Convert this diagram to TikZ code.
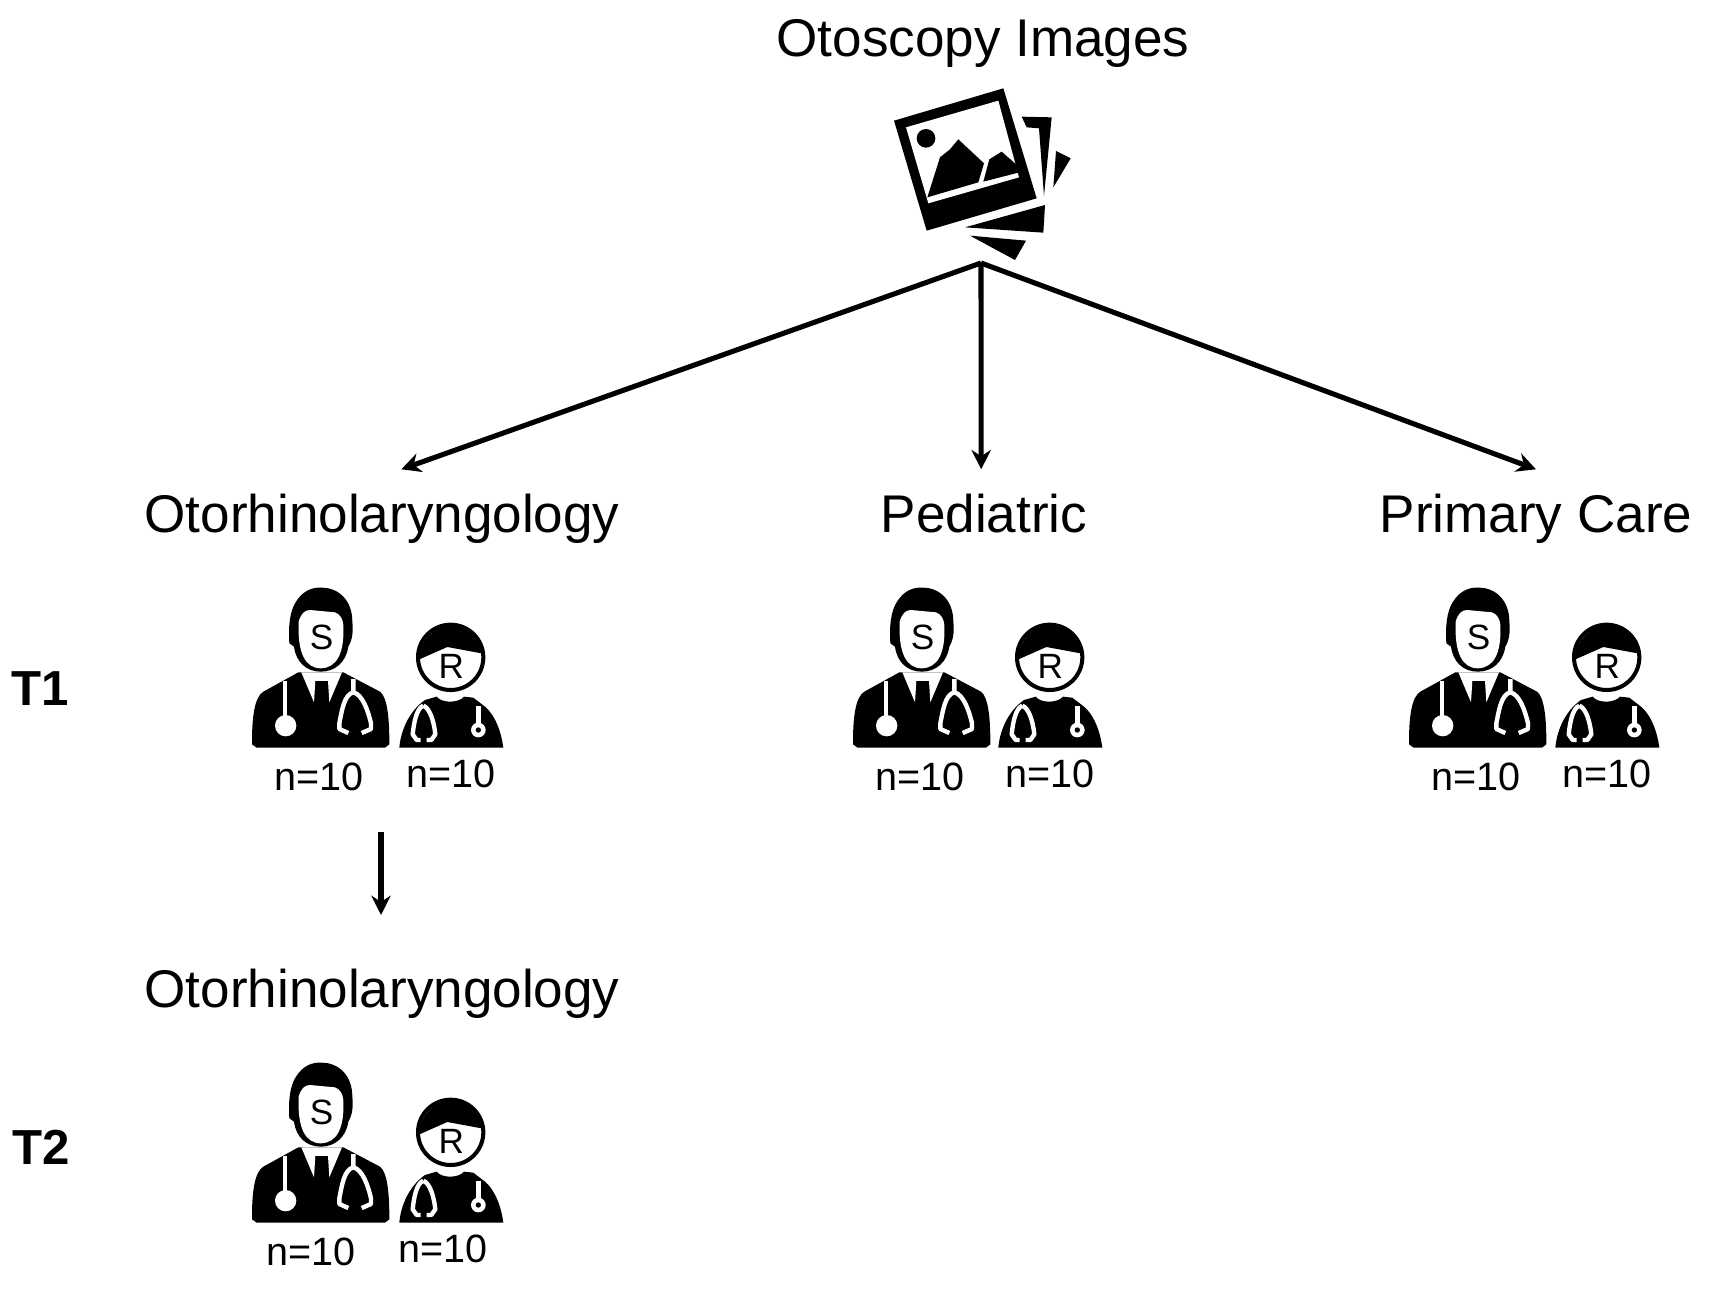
\documentclass[tikz,border=0pt]{standalone}
\usepackage{fontspec}
\setmainfont{Liberation Sans}
\usetikzlibrary{arrows.meta}
\tikzset{
    arrowline/.style={line width=2.9pt,-{Stealth[length=11pt,width=11pt]}},
    group/.style={font=\fontsize{30.2}{36}\selectfont,anchor=base,inner xsep=0pt,inner ysep=13.6pt},
    count/.style={font=\fontsize{22.5}{26}\selectfont,inner sep=0pt},
    period/.style={font=\fontsize{28}{32}\selectfont\bfseries,inner sep=0pt},
    badge/.style={font=\fontsize{20}{24}\selectfont,inner sep=0pt},
    tube/.style={white,line width=2.5pt,line join=round},
    pics/senior/.style={code={
        \fill (36,500) .. controls (36,420) and (45,365) .. (70,350) -- (175,292) --
            (310,292) -- (420,350) .. controls (440,365) and (448,420) .. (448,500) --
            (448,508) -- (435,518) -- (50,518) -- (36,508) -- cycle;
        \fill[white] (184,292) -- (222,382) -- (226,318) -- (264,318) -- (268,382) -- (306,292) -- cycle;
        \fill (226,318) -- (264,318) -- (256,345) -- (268,385) -- (222,385) -- (234,345) -- cycle;
        \draw[tube] (135,318) -- (135,430);
        \fill[white] (137,452) circle[radius=32];
        \draw[tube] (340,312) -- (340,352) .. controls (312,358) and (305,410) .. (298,445) --
            (298,462) -- (325,474);
        \draw[tube] (340,352) .. controls (368,358) and (385,410) .. (393,445) --
            (393,462) -- (365,474);
        \fill (148,205) .. controls (145,160) and (148,110) .. (168,80) ..
            controls (190,45) and (220,36) .. (245,38) .. controls (295,38) and (337,75) .. (337,140) ..
            controls (340,170) and (337,195) .. (325,215) .. controls (318,262) and (285,290) .. (242,290) ..
            controls (200,290) and (168,262) .. (162,215) -- cycle;
        \fill[white] (176,140) .. controls (183,115) and (195,105) .. (210,105) --
            (285,112) .. controls (300,118) and (308,130) .. (310,150) ..
            controls (314,235) and (290,279) .. (242,280) ..
            controls (196,279) and (172,235) .. (176,140) -- cycle;
        \node[badge] (-letter) at (245,188) {S};
    }},
    pics/resident/.style={code={
        \fill (478,518) .. controls (482,470) and (505,410) .. (555,375) -- (590,365) ..
            controls (605,385) and (655,385) .. (672,365) -- (700,368) -- (735,395) ..
            controls (770,425) and (785,480) .. (790,518) -- cycle;
        \draw[tube] (550,392) .. controls (530,400) and (522,440) .. (518,478) -- (530,495) -- (542,495);
        \draw[tube] (550,392) .. controls (570,400) and (582,440) .. (586,478) -- (574,495) -- (560,495);
        \draw[tube] (715,392) -- (715,445);
        \fill[white] (715,465) circle[radius=22];
        \fill (715,465) circle[radius=8];
        \fill[white] (632,247) circle[radius=98];
        \draw[line width=2.3pt] (632,247) circle[radius=98];
        \fill (536,254) .. controls (540,190) and (590,152) .. (632,152) ..
            controls (680,152) and (726,190) .. (730,236) -- (622,216) -- cycle;
        \node[badge] (-letter) at (634,275) {R};
    }},
    pics/album/.style={code={
        \fill (72,152) -- (400,55) -- (500,385) -- (170,482) -- cycle;
        \fill[white] (108,172) -- (385,92) -- (447,322) -- (175,400) -- cycle;
        \fill (168,205) circle[radius=28];
        \fill (172,382) -- (210,262) -- (240,238) -- (265,208) -- (342,280) -- (325,337) -- cycle;
        \fill (340,335) -- (358,268) -- (395,245) -- (437,282) -- (445,308) -- cycle;
        \fill (455,140) -- (545,142) -- (522,378) -- (507,175) -- (470,172) -- cycle;
        \fill (558,243) -- (602,265) -- (550,352) -- cycle;
        \fill (285,472) -- (525,405) -- (520,488) -- cycle;
        \fill (300,497) -- (468,512) -- (435,570) -- cycle;
    }}
}
\begin{document}
\begin{tikzpicture}[x=.02cm,y=-.02cm]
    \useasboundingbox (0,0) rectangle (1713,1291);
    \node[group,inner ysep=0pt] (images) at (983,57) {Otoscopy Images};
    \pic[scale=1/3] (album) at (870,70) {album};
    \node[group] (ent) at (382,532) {Otorhinolaryngology};
    \node[group] (ped) at (984,532) {Pediatric};
    \node[group] (pri) at (1536,532) {Primary Care};
    \node[group] (entb) at (382,1007) {Otorhinolaryngology};
    \node[period] (tone) at (40,689) {T1};
    \node[period] (ttwo) at (41,1147) {T2};
    \foreach \grp/\sx/\rx/\dy/\lx in {ent/0/0/0/0,ped/601/599/0/0,pri/1157/1156/0/0,entb/0/0/475/-8} {
        \pic[scale=1/3] (\grp S) at (240+\sx,575+\dy) {senior};
        \pic[scale=1/3] (\grp R) at (240+\rx,575+\dy) {resident};
        \node[count] (\grp Sn) at (319+\sx+\lx,777+\dy) {n=10};
        \node[count] (\grp Rn) at (451+\rx+\lx,774+\dy) {n=10};
    }
    \coordinate (apex) at (981,263);
    \coordinate (entup) at (381,832);
    \coordinate (entdown) at (381,915);
    \draw[arrowline] (apex) -- ([xshift=11pt]ent.north);
    \draw[arrowline] (apex) -- ([xshift=-1.6pt]ped.north);
    \draw[arrowline] (apex) -- (pri.north);
    \draw[arrowline] (entup) -- (entdown);
\end{tikzpicture}
\end{document}
